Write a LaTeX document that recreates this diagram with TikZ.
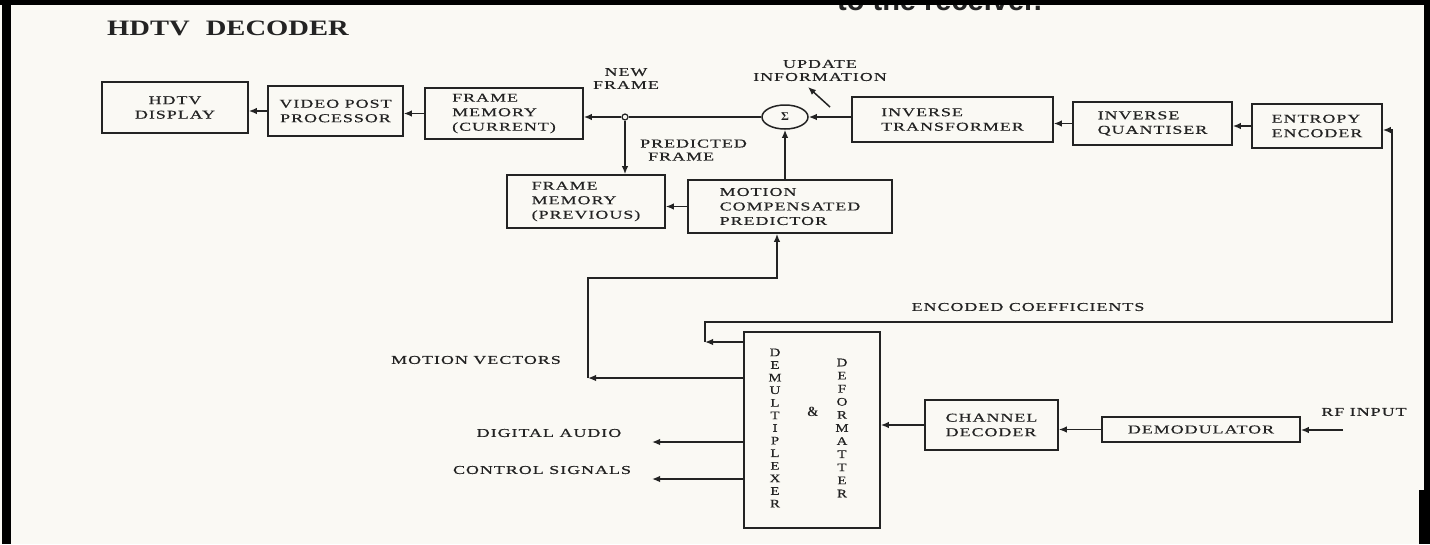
\documentclass[tikz,border=0pt]{standalone}
\usepackage{fontspec}
\setmainfont{Liberation Serif}
\newfontfamily\lblfont[FakeStretch=1.5,LetterSpace=8,FakeBold=0.5]{Liberation Serif}
\newfontfamily\vfont[FakeStretch=1.3,FakeBold=0.5]{Liberation Serif}
\newfontfamily\titlefont[FakeStretch=1.3]{Liberation Serif}
\newfontfamily\topfont{Liberation Sans}
\usetikzlibrary{arrows.meta,shapes.geometric}
\definecolor{paper}{RGB}{250,249,244}
\definecolor{ink}{RGB}{35,35,35}
\begin{document}
\begin{tikzpicture}[x=1pt,y=-1pt,
  blk/.style={draw=ink,line width=1.6pt,rectangle,inner sep=0pt,text=ink,
    font=\lblfont\fontsize{12}{14.5}\selectfont},
  lbl/.style={font=\lblfont\fontsize{12}{13}\selectfont,text=ink,inner sep=0pt},
  arr/.style={draw=ink,line width=1.5pt,-{Latex[length=8pt,width=6.5pt]}},
  ln/.style={draw=ink,line width=1.5pt},
  vert/.style={font=\vfont\fontsize{11.5}{12.6}\selectfont,text=ink,align=center,inner sep=0pt},
]
\useasboundingbox (0,0) rectangle (1430,544);
\fill[paper] (0,0) rectangle (1430,544);

% cut-off line at the top
\node[anchor=base west,font=\topfont\bfseries\fontsize{29}{30}\selectfont,text=ink,inner sep=0pt] (toptxt) at (837,10) {to the receiver.};

% scan border
\fill[black] (2,0) rectangle (11,544);
\fill[black] (0,0) rectangle (1430,5);
\fill[black] (1424,0) rectangle (1430,544);
\fill[black] (1419,490) rectangle (1428,544);

% title
\node[anchor=base west,font=\titlefont\bfseries\fontsize{22}{24}\selectfont,text=ink,inner sep=0pt] (title) at (107,35) {HDTV\hspace{16pt}DECODER};

% top row
\node[blk,minimum width=146pt,minimum height=51pt,align=center] (disp) at (175,107.5) {HDTV\\DISPLAY};
\node[blk,minimum width=135pt,minimum height=50pt,align=center] (vpp) at (335.5,111) {VIDEO POST\\PROCESSOR};
\node[blk,minimum width=158pt,minimum height=51pt,align=left] (fmc) at (504,113.5) {FRAME\\MEMORY\\(CURRENT)};
\node[circle,draw=ink,fill=paper,line width=1.2pt,minimum size=6pt,inner sep=0pt] (j) at (625,117) {};
\node[ellipse,draw=ink,line width=1.5pt,minimum width=46pt,minimum height=24pt,inner sep=0pt,font=\bfseries\fontsize{12}{13}\selectfont,text=ink] (sig) at (785,117) {Σ};
\node[blk,minimum width=201pt,minimum height=45pt,align=left] (it) at (952.5,119.5) {INVERSE\\TRANSFORMER};
\node[blk,minimum width=159pt,minimum height=43pt,align=left] (iq) at (1152.5,123.5) {INVERSE\\QUANTISER};
\node[blk,minimum width=130pt,minimum height=44pt,align=left] (ee) at (1317,126) {ENTROPY\\ENCODER};

% second row
\node[blk,minimum width=158pt,minimum height=53pt,align=left] (fmp) at (586,201.5) {FRAME\\MEMORY\\(PREVIOUS)};
\node[blk,minimum width=204pt,minimum height=53pt,align=left] (mcp) at (790,206.5) {MOTION\\COMPENSATED\\PREDICTOR};

% bottom row
\node[draw=ink,line width=1.6pt,rectangle,minimum width=136pt,minimum height=196pt,inner sep=0pt] (demux) at (812,430) {};
\node[vert] (dmtxt) at (775,428) {D\\E\\M\\U\\L\\T\\I\\P\\L\\E\\X\\E\\R};
\node[font=\bfseries\fontsize{14}{15}\selectfont,text=ink,inner sep=0pt] (amp) at (813,412) {\&};
\node[vert,font=\vfont\fontsize{11.5}{13.1}\selectfont] (dftxt) at (842,428) {D\\E\\F\\O\\R\\M\\A\\T\\T\\E\\R};
\node[blk,minimum width=133pt,minimum height=50pt,align=left] (cd) at (991.5,425) {CHANNEL\\DECODER};
\node[blk,minimum width=198pt,minimum height=25pt,align=center] (demod) at (1201,429.5) {DEMODULATOR};

% labels
\node[lbl,align=center] (newf) at (626,78.5) {NEW\\FRAME};
\node[lbl,align=left,anchor=west] (predf) at (640,150) {PREDICTED\\\hspace{8pt}FRAME};
\node[lbl,align=center] (upd) at (820,70.5) {UPDATE\\INFORMATION};
\node[lbl] (enc) at (1028,307) {ENCODED COEFFICIENTS};
\node[lbl] (mvl) at (476,360) {MOTION VECTORS};
\node[lbl] (dal) at (549,433) {DIGITAL AUDIO};
\node[lbl] (csl) at (542,470) {CONTROL SIGNALS};
\node[lbl] (rfl) at (1364,412) {RF INPUT};

% coordinates
\coordinate (u1) at (830,107);
\coordinate (u2) at (808,87);
\coordinate (mv1) at (588,378);
\coordinate (mv2) at (588,278);
\coordinate (mv3) at (777,278);
\coordinate (ec1) at (705,342);
\coordinate (ec2) at (705,322);
\coordinate (ec3) at (1392,322);
\coordinate (ec4) at (1392,130);
\coordinate (da) at (652,442);
\coordinate (cs) at (652,479);
\coordinate (rf) at (1343,430);

% connectors top
\draw[arr] (vpp.west) -- (vpp.west -| disp.east);
\draw[arr] (fmc.west) -- (fmc.west -| vpp.east);
\draw[arr] (j) -- (j -| fmc.east);
\draw[ln] (sig.west) -- (j);
\draw[arr] (it.west |- sig.east) -- (sig.east);
\draw[arr] (iq.west) -- (iq.west -| it.east);
\draw[arr] (ee.west) -- (ee.west -| iq.east);
\draw[arr] (j) -- (j |- fmp.north);
\draw[arr] (mcp.west) -- (mcp.west -| fmp.east);
\draw[arr] (sig.south |- mcp.north) -- (sig.south);
\draw[arr] (u1) -- (u2);

% motion vectors
\draw[arr] (demux.west |- mv1) -- (mv1);
\draw[arr] (mv1) -- (mv2) -- (mv3) -- (mv3 |- mcp.south);

% encoded coefficients
\draw[arr] (demux.west |- ec1) -- (ec1);
\draw[arr] (ec1) -- (ec2) -- (ec3) -- (ec4) -- (ee.east |- ec4);

% outputs
\draw[arr] (demux.west |- da) -- (da);
\draw[arr] (demux.west |- cs) -- (cs);

% input chain
\draw[arr] (cd.west) -- (cd.west -| demux.east);
\draw[arr] (demod.west) -- (demod.west -| cd.east);
\draw[arr] (rf) -- (rf -| demod.east);
\end{tikzpicture}
\end{document}
